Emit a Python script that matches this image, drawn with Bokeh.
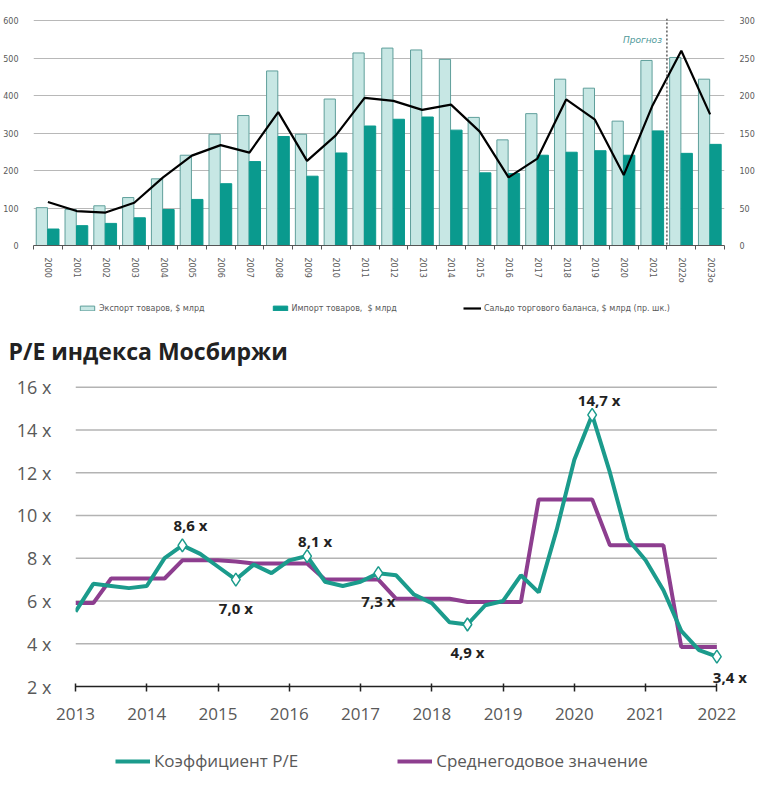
from bokeh.plotting import figure
from bokeh.models import (Range1d, LinearAxis, FixedTicker, CustomJSTickFormatter, Span,
                          Label, LabelSet, Legend, LegendItem, ColumnDataSource)
from bokeh.core.properties import value
from bokeh.transform import dodge
from bokeh.embed import file_html
from bokeh.resources import INLINE

# ---------------- top chart data ----------------
years = ["2000", "2001", "2002", "2003", "2004", "2005", "2006", "2007", "2008", "2009",
         "2010", "2011", "2012", "2013", "2014", "2015", "2016", "2017", "2018", "2019",
         "2020", "2021", "2022о", "2023о"]
export = [101, 96, 106, 128, 178, 241, 297, 347, 466, 297,
          391, 514, 527, 522, 497, 342, 282, 352, 444, 420,
          332, 494, 502, 444]
imports = [44, 53, 59, 74, 96, 123, 165, 224, 291, 185,
           247, 319, 337, 343, 308, 194, 192, 241, 249, 253,
           241, 306, 246, 270]
balance = [58, 46, 44, 57, 91, 120, 134, 124, 178, 113,
           147, 197, 193, 181, 188, 152, 91, 116, 195, 168,
           94, 187, 260, 175]
forecast_start = "2022о"
forecast_label = "Прогноз"
left_ticks = [0, 100, 200, 300, 400, 500, 600]
right_ticks = [0, 50, 100, 150, 200, 250, 300]
top_legend = ["Экспорт товаров, $ млрд", "Импорт товаров,  $ млрд",
              "Сальдо торгового баланса, $ млрд (пр. шк.)"]

# ---------------- bottom chart data ----------------
pe_title = "P/E индекса Мосбиржи"
pe_t = [2013.0, 2013.25, 2013.5, 2013.75, 2014.0, 2014.25, 2014.5, 2014.75,
        2015.0, 2015.25, 2015.5, 2015.75, 2016.0, 2016.25, 2016.5, 2016.75,
        2017.0, 2017.25, 2017.5, 2017.75, 2018.0, 2018.25, 2018.5, 2018.75,
        2019.0, 2019.25, 2019.5, 2019.75, 2020.0, 2020.25, 2020.5, 2020.75,
        2021.0, 2021.25, 2021.5, 2021.75, 2022.0]
pe = [5.5, 6.8, 6.7, 6.6, 6.7, 8.0, 8.6, 8.2,
      7.6, 7.0, 7.7, 7.3, 7.9, 8.1, 6.9, 6.7,
      6.9, 7.3, 7.2, 6.3, 5.9, 5.0, 4.9, 5.8,
      6.0, 7.2, 6.4, 9.3, 12.6, 14.7, 12.0, 8.9,
      7.9, 6.5, 4.6, 3.7, 3.4]
pe_avg = [5.9, 5.9, 7.05, 7.05, 7.05, 7.05, 7.9, 7.9,
          7.9, 7.85, 7.75, 7.75, 7.75, 7.75, 7.0, 7.0,
          7.0, 7.0, 6.1, 6.1, 6.1, 6.1, 5.95, 5.95,
          5.95, 5.95, 10.75, 10.75, 10.75, 10.75, 8.6, 8.6,
          8.6, 8.6, 3.85, 3.85, 3.85]
marked = [6, 9, 13, 17, 22, 29, 36]
pe_year_ticks = [2013, 2014, 2015, 2016, 2017, 2018, 2019, 2020, 2021, 2022]
pe_y_ticks = [2, 4, 6, 8, 10, 12, 14, 16]
pe_legend = ["Коэффициент P/E", "Среднегодовое значение"]

# styling for labels (screen offsets)
label_dx = [8, 0, 8, 0, 0, 7, 13]
label_dy = [20, -28, 15, -28, -28, 15, -20]

TXT = "#595959"
TEAL = "#1b9b8c"
PURPLE = "#8d3e8f"
EXP_FILL, EXP_LINE, IMP = "#c7e7e4", "#5f9f9b", "#0a9a8e"


def strip(height):
    s = figure(width=767, height=height, x_range=Range1d(-10, -9), y_range=Range1d(-10, -9),
               output_backend="svg", toolbar_location=None,
               min_border_left=0, min_border_right=0, min_border_top=0, min_border_bottom=0)
    s.outline_line_color = None
    s.axis.visible = False
    s.grid.visible = False
    return s


# ================= top figure =================
n = len(years)
src = ColumnDataSource(dict(x=[i + 0.5 for i in range(n)], export=export,
                            imports=imports, balance=balance))
p1 = figure(width=767, height=290, x_range=Range1d(0, n), y_range=Range1d(0, 606),
            output_backend="svg", toolbar_location=None,
            min_border_left=32, min_border_right=43, min_border_top=18, min_border_bottom=45)
p1.extra_y_ranges = {"right": Range1d(0, 303)}
p1.outline_line_color = None

p1.vbar(x=dodge("x", -0.21, range=p1.x_range), width=0.39, top="export", source=src,
        fill_color=EXP_FILL, line_color=EXP_LINE, line_width=1)
p1.vbar(x=dodge("x", 0.19, range=p1.x_range), width=0.39, top="imports", source=src,
        fill_color=IMP, line_color=IMP, line_width=1)
p1.line(x="x", y="balance", source=src, y_range_name="right", line_color="black", line_width=2.2)

p1.xgrid.grid_line_color = None
p1.ygrid.grid_line_color = "#b8b8b8"
p1.ygrid.grid_line_width = 1
p1.yaxis.ticker = FixedTicker(ticks=left_ticks)
p1.yaxis.axis_line_color = None
p1.yaxis.major_tick_line_color = None
p1.yaxis.minor_tick_line_color = None
p1.yaxis.major_label_standoff = 9
p1.yaxis.major_label_text_font = "DejaVu Sans"
p1.yaxis.major_label_text_font_size = "8px"
p1.yaxis.major_label_text_color = TXT

ax_r = LinearAxis(y_range_name="right", ticker=FixedTicker(ticks=right_ticks))
ax_r.axis_line_color = None
ax_r.major_tick_line_color = None
ax_r.minor_tick_line_color = None
ax_r.major_label_standoff = 9
ax_r.major_label_text_font = "DejaVu Sans"
ax_r.major_label_text_font_size = "8px"
ax_r.major_label_text_color = TXT
p1.add_layout(ax_r, "right")

p1.xaxis.ticker = FixedTicker(ticks=[i + 0.5 for i in range(n)], minor_ticks=list(range(n + 1)))
p1.xaxis.formatter = CustomJSTickFormatter(args=dict(labels=years),
                                           code="return labels[Math.round(tick - 0.5)] || '';")
p1.xaxis.major_label_orientation = "vertical"
p1.xaxis.major_tick_line_color = None
p1.xaxis.minor_tick_out = 4
p1.xaxis.minor_tick_in = 0
p1.xaxis.minor_tick_line_color = "#555555"
p1.xaxis.axis_line_color = "#555555"
p1.xaxis.major_label_standoff = 6
p1.xaxis.major_label_text_font = "DejaVu Sans"
p1.xaxis.major_label_text_font_size = "8px"
p1.xaxis.major_label_text_color = TXT

fpos = years.index(forecast_start)
p1.add_layout(Span(location=fpos, dimension="height", line_color="#444444",
                   line_dash="2 2", line_width=1.3))
p1.add_layout(Label(x=fpos, y=549, text=forecast_label, x_offset=-5, text_align="right",
                    text_baseline="middle", text_font="DejaVu Sans", text_font_size="9px",
                    text_font_style="italic", text_color="#4f9a9a"))

# top legend strip
s1 = strip(40)
g_exp = s1.vbar(x=[0], width=1, top=[1], fill_color=EXP_FILL, line_color=EXP_LINE, line_width=1)
g_imp = s1.vbar(x=[0], width=1, top=[1], fill_color=IMP, line_color=IMP, line_width=1)
g_bal = s1.line(x=[0, 1], y=[0, 1], line_color="black", line_width=2.2)
s1.add_layout(Legend(items=[LegendItem(label=top_legend[0], renderers=[g_exp]),
                            LegendItem(label=top_legend[1], renderers=[g_imp]),
                            LegendItem(label=top_legend[2], renderers=[g_bal])],
                     location=(78, 17), orientation="horizontal", spacing=66,
                     glyph_width=18, glyph_height=6, label_height=10, label_standoff=3,
                     padding=0, margin=0, border_line_color=None, background_fill_alpha=0,
                     label_text_font="DejaVu Sans", label_text_font_size="8px",
                     label_text_color=TXT))

# title strip
s2 = strip(40)
s2.add_layout(Label(x=8, y=20, x_units="screen", y_units="screen", text=pe_title,
                    text_baseline="middle", text_align="left", text_font="Open Sans",
                    text_font_size="23px", text_font_style="bold", text_color="#222222"))

# ================= bottom figure =================
src2 = ColumnDataSource(dict(t=pe_t, pe=pe, avg=pe_avg))
mk = ColumnDataSource(dict(t=[pe_t[i] for i in marked], pe=[pe[i] for i in marked],
                           txt=[("%.1f" % pe[i]).replace(".", ",") + " x" for i in marked],
                           dx=label_dx, dy=label_dy))

p2 = figure(width=767, height=370, x_range=Range1d(2013, 2022.5), y_range=Range1d(2, 16.31),
            output_backend="svg", toolbar_location=None,
            min_border_left=75, min_border_right=15, min_border_top=10, min_border_bottom=54)
p2.outline_line_color = None

p2.xgrid.grid_line_color = None
p2.ygrid.grid_line_color = None
grid_y = [t for t in pe_y_ticks if t > pe_y_ticks[0]]
p2.segment(x0=pe_year_ticks[0], x1=pe_year_ticks[-1], y0=grid_y, y1=grid_y,
           line_color="#b3b3b3", line_width=1.5, level="underlay")

p2.yaxis.ticker = FixedTicker(ticks=pe_y_ticks)
p2.yaxis.formatter = CustomJSTickFormatter(code="return tick + ' x';")
p2.yaxis.axis_line_color = None
p2.yaxis.major_tick_line_color = None
p2.yaxis.minor_tick_line_color = None
p2.yaxis.major_label_standoff = 18
p2.yaxis.major_label_text_font = "Open Sans"
p2.yaxis.major_label_text_font_size = "18px"
p2.yaxis.major_label_text_color = TXT

p2.xaxis.ticker = FixedTicker(ticks=pe_year_ticks)
p2.xaxis.bounds = (pe_year_ticks[0], pe_year_ticks[-1])
p2.xaxis.axis_line_color = "#222222"
p2.xaxis.axis_line_width = 1.5
p2.xaxis.major_tick_line_color = "#222222"
p2.xaxis.major_tick_line_width = 1.5
p2.xaxis.major_tick_out = 5
p2.xaxis.major_tick_in = 3
p2.xaxis.minor_tick_line_color = None
p2.xaxis.major_label_standoff = 16
p2.xaxis.major_label_text_font = "Open Sans"
p2.xaxis.major_label_text_font_size = "17px"
p2.xaxis.major_label_text_color = TXT

p2.line(x="t", y="avg", source=src2, line_color=PURPLE, line_width=4)
p2.line(x="t", y="pe", source=src2, line_color=TEAL, line_width=4)
p2.scatter(x="t", y="pe", source=mk, marker="diamond", size=13, fill_color="white",
           line_color=TEAL, line_width=1.5)

p2.add_layout(LabelSet(x="t", y="pe", text="txt", x_offset="dx", y_offset="dy", source=mk,
                       text_align="center", text_baseline="middle", text_font=value("Open Sans"),
                       text_font_size=value("15px"), text_font_style="bold", text_color="#222222"))

# bottom legend strip
s3 = strip(50)
l_pe = s3.line(x="t", y="pe", source=src2, line_color=TEAL, line_width=4)
l_avg = s3.line(x="t", y="avg", source=src2, line_color=PURPLE, line_width=4)
s3.add_layout(Legend(items=[LegendItem(label=pe_legend[0], renderers=[l_pe]),
                            LegendItem(label=pe_legend[1], renderers=[l_avg])],
                     location=(115, 18), orientation="horizontal", spacing=99,
                     glyph_width=35, glyph_height=20, label_height=20, label_standoff=4,
                     padding=0, margin=0, border_line_color=None, background_fill_alpha=0,
                     label_text_font="Open Sans", label_text_font_size="17px",
                     label_text_color=TXT))

open("out.html", "w").write(file_html([p1, s1, s2, p2, s3], INLINE))
